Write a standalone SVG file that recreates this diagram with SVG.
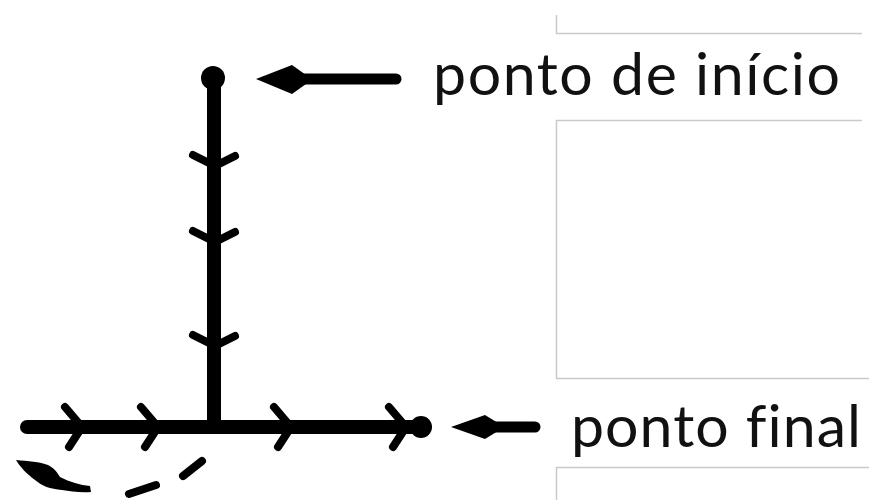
<svg xmlns="http://www.w3.org/2000/svg" width="869" height="500" viewBox="0 0 869 500">
  <style>
    .ln { stroke: #000; stroke-width: 14; stroke-linecap: round; fill: none; }
    .chev { stroke: #000; stroke-width: 8; stroke-linecap: round; stroke-linejoin: round; fill: none; }
    .ptr { stroke: #000; stroke-width: 11; stroke-linecap: round; fill: none; }
    .frame { stroke: #c9c9c9; stroke-width: 1.5; fill: none; }
    .lbl { font-family: "Lato", "Liberation Sans", sans-serif; font-size: 59px; fill: #111; font-variant-ligatures: none; }
  </style>
  <defs>
    <path id="chev" d="M-17,-20 L0,0 L-13,20" class="chev"/>
    <path id="vchev" d="M-22,-11 L0,0 L20,-10" class="chev"/>
  </defs>
  <rect width="869" height="500" fill="#fff"/>

  <g id="frames">
    <path class="frame" d="M556.5,15 V33.5 H862"/>
    <path class="frame" d="M862,120.5 H556.5 V378.5 H869"/>
    <path class="frame" d="M869,467.5 H556.5 V500"/>
  </g>

  <g id="connectors">
    <line class="ln" x1="214" y1="80" x2="214" y2="427"/>
    <line class="ln" x1="27" y1="427" x2="420" y2="427"/>
    <use href="#vchev" transform="translate(215,166)"/>
    <use href="#vchev" transform="translate(215,242)"/>
    <use href="#vchev" transform="translate(215,346)"/>
    <use href="#chev" transform="translate(82,427)"/>
    <use href="#chev" transform="translate(158,427)"/>
    <use href="#chev" transform="translate(291,427)"/>
    <use href="#chev" transform="translate(406,427)"/>
    <path d="M16,460 C28,461 40,462 48,465 C54,468 57,472 60,477 C70,482 80,485 90,486 L91,492 C80,493 70,491 62,490 C50,489 42,486 35,480 C27,474 20,467 16,460 Z" fill="#000"/>
    <line class="chev" x1="129" y1="494" x2="156" y2="485"/>
    <line class="chev" x1="183" y1="476" x2="202" y2="461"/>
  </g>

  <g id="start">
    <circle cx="213" cy="78" r="12" fill="#000"/>
  </g>

  <g id="end">
    <circle cx="421" cy="427" r="11" fill="#000"/>
  </g>

  <g id="label-start">
    <line class="ptr" x1="298" y1="79" x2="396" y2="79"/>
    <polygon points="256,79 292,65 306,75 306,84 292,94" fill="#000"/>
    <text class="lbl" x="433" y="95" textLength="407" lengthAdjust="spacing">ponto de início</text>
  </g>

  <g id="label-end">
    <line class="ptr" x1="490" y1="427" x2="535" y2="427"/>
    <polygon points="451,427 485,415 498,423 498,431 485,439" fill="#000"/>
    <text class="lbl" x="571" y="447" textLength="290" lengthAdjust="spacing">ponto final</text>
  </g>
</svg>
